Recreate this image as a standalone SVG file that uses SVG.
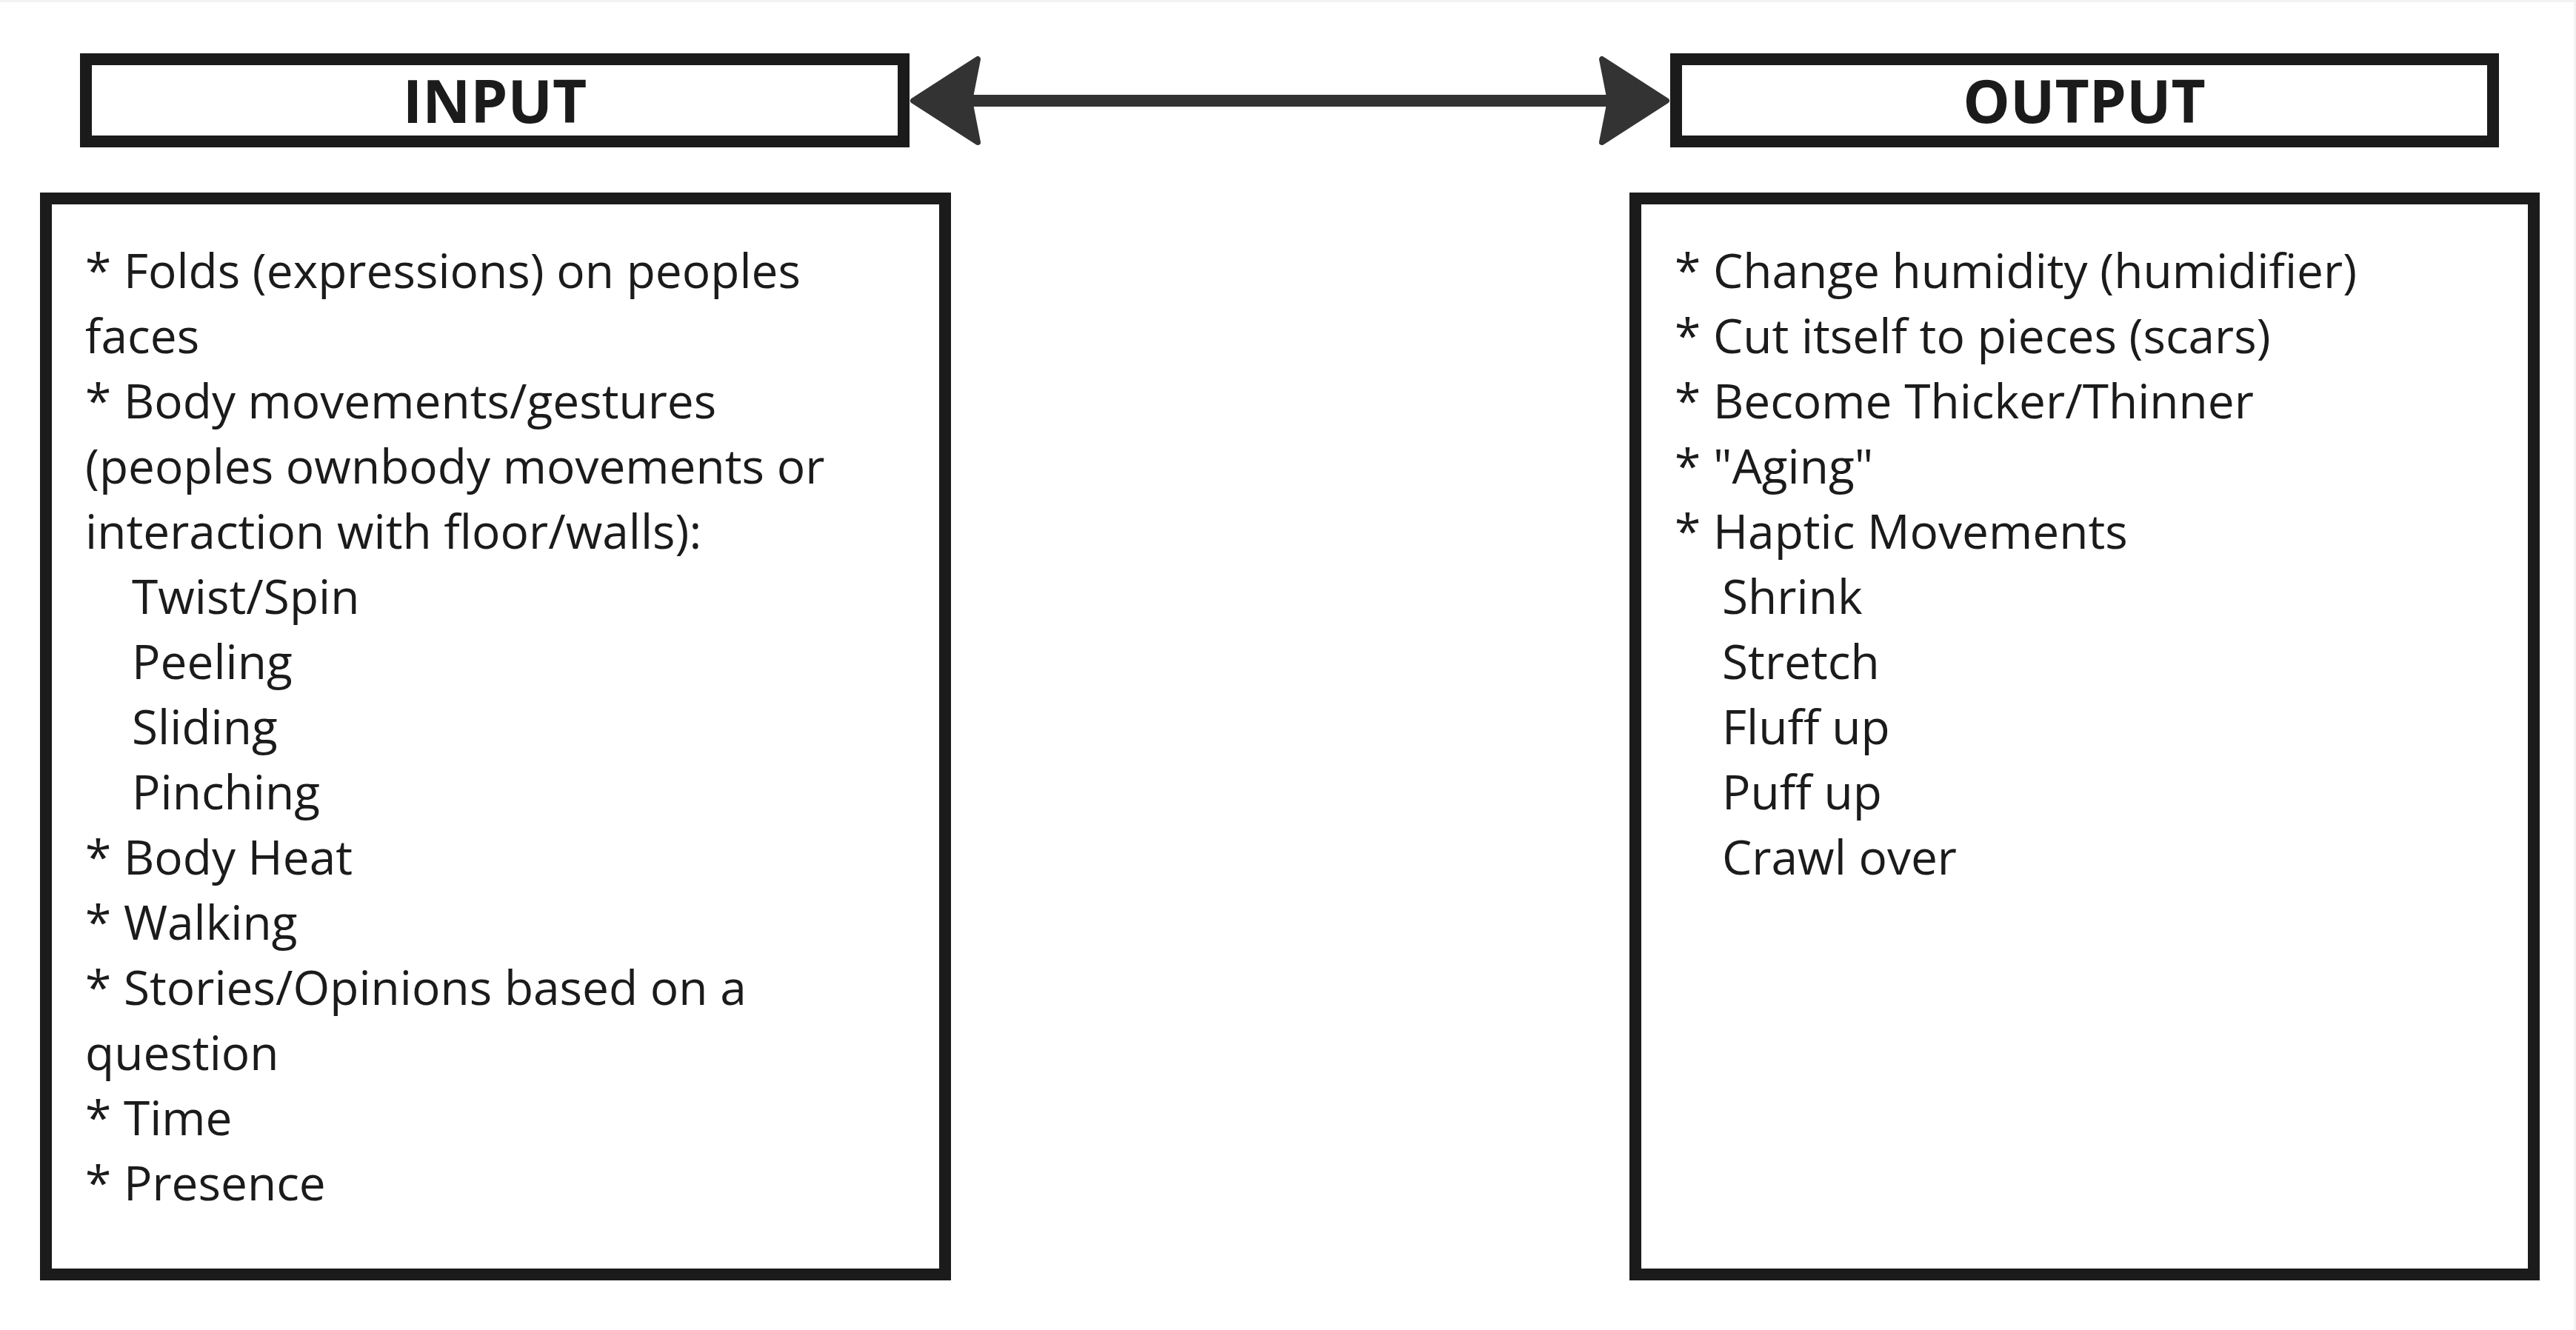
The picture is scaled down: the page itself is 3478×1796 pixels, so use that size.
<svg xmlns="http://www.w3.org/2000/svg" width="3478" height="1796" viewBox="0 0 3478 1796">
  <style>
    .box { fill: #ffffff; stroke: #1b1b1b; stroke-width: 16; }
    .title { font-family: "Open Sans", "Liberation Sans", sans-serif; font-weight: 700; font-size: 80px; fill: #1b1b1b; text-anchor: middle; }
    .body { font-family: "Open Sans", "Liberation Sans", sans-serif; font-size: 64px; fill: #1b1b1b; }
    .conn { stroke: #333333; stroke-width: 16; fill: none; }
    .head { fill: #333333; stroke: #333333; stroke-width: 8; stroke-linejoin: round; }
  </style>
  <rect x="0" y="0" width="3478" height="1796" fill="#ffffff"/>
  <rect x="0" y="0" width="3478" height="3" fill="#f2f2f2"/>
  <rect x="3475" y="0" width="3" height="1796" fill="#f2f2f2"/>

  <g id="connectors">
    <line class="conn" x1="1305" y1="136" x2="2178" y2="136"/>
    <path class="head" d="M1233,136 L1320,80 L1309,136 L1320,192 Z"/>
    <path class="head" d="M2250,136 L2163,80 L2174,136 L2163,192 Z"/>
  </g>

  <g id="input-title">
    <rect class="box" x="116" y="80" width="1104" height="111"/>
    <text class="title" x="668" y="166">INPUT</text>
  </g>

  <g id="output-title">
    <rect class="box" x="2263" y="80" width="1103" height="111"/>
    <text class="title" x="2814" y="166">OUTPUT</text>
  </g>

  <g id="input-list">
    <rect class="box" x="62" y="268" width="1214" height="1453"/>
    <text class="body" x="115" y="389">* Folds (expressions) on peoples</text>
    <text class="body" x="115" y="477">faces</text>
    <text class="body" x="115" y="565">* Body movements/gestures</text>
    <text class="body" x="115" y="653">(peoples ownbody movements or</text>
    <text class="body" x="115" y="741">interaction with floor/walls):</text>
    <text class="body" x="178" y="829">Twist/Spin</text>
    <text class="body" x="178" y="917">Peeling</text>
    <text class="body" x="178" y="1005">Sliding</text>
    <text class="body" x="178" y="1093">Pinching</text>
    <text class="body" x="115" y="1181">* Body Heat</text>
    <text class="body" x="115" y="1269">* Walking</text>
    <text class="body" x="115" y="1357">* Stories/Opinions based on a</text>
    <text class="body" x="115" y="1445">question</text>
    <text class="body" x="115" y="1533">* Time</text>
    <text class="body" x="115" y="1621">* Presence</text>
  </g>

  <g id="output-list">
    <rect class="box" x="2208" y="268" width="1213" height="1453"/>
    <text class="body" x="2261" y="389">* Change humidity (humidifier)</text>
    <text class="body" x="2261" y="477">* Cut itself to pieces (scars)</text>
    <text class="body" x="2261" y="565">* Become Thicker/Thinner</text>
    <text class="body" x="2261" y="653">* "Aging"</text>
    <text class="body" x="2261" y="741">* Haptic Movements</text>
    <text class="body" x="2325" y="829">Shrink</text>
    <text class="body" x="2325" y="917">Stretch</text>
    <text class="body" x="2325" y="1005">Fluff up</text>
    <text class="body" x="2325" y="1093">Puff up</text>
    <text class="body" x="2325" y="1181">Crawl over</text>
  </g>
</svg>
